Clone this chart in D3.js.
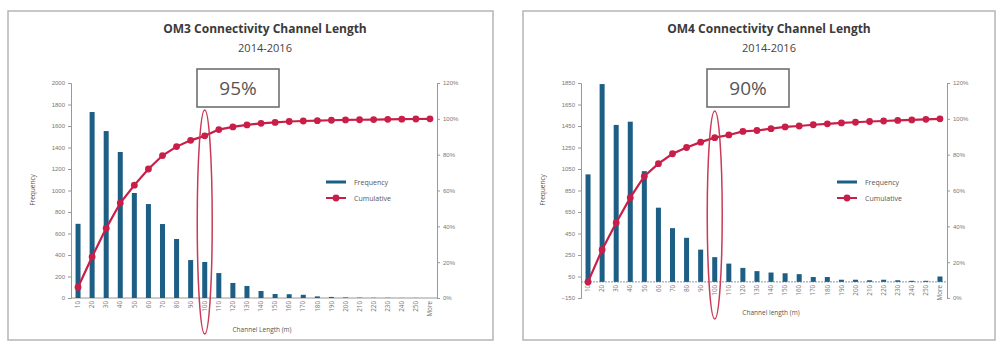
<!DOCTYPE html>
<html>
<head>
<meta charset="utf-8">
<script src="https://cdn.jsdelivr.net/npm/d3@7"></script>
<style>
  body { margin: 0; background: #fff; }
  svg { display: block; font-family: "Open Sans", "Noto Sans", sans-serif; }
  .tick text { fill: #777; font-size: 6px; }
  .tick line, .domain { stroke: #999; }
</style>
</head>
<body>
<div id="chart"></div>
<script>
// Chart data
var categories = ["10", "20", "30", "40", "50", "60", "70", "80", "90", "100", "110", "120", "130",
    "140", "150", "160", "170", "180", "190", "200", "210", "220", "230", "240", "250", "More"];

var om3Frequency = [690, 1730, 1553, 1358, 977, 874, 688, 549, 353, 335, 232, 140, 112,
    65, 37, 35, 30, 15, 10, 5, 3, 2, 2, 1, 1, 0];
var om3Cumulative = [0.06, 0.23, 0.39, 0.53, 0.63, 0.72, 0.795, 0.845, 0.88, 0.905, 0.94, 0.955, 0.966,
    0.975, 0.98, 0.985, 0.988, 0.99, 0.992, 0.994, 0.995, 0.996, 0.997, 0.998, 0.999, 1.0];

var om4Frequency = [1000, 1840, 1460, 1490, 1030, 690, 500, 410, 300, 230, 170, 130, 100,
    87, 80, 72, 45, 45, 20, 20, 15, 20, 15, 10, 10, 50];
var om4Cumulative = [0.09, 0.27, 0.42, 0.56, 0.68, 0.75, 0.805, 0.84, 0.87, 0.895, 0.91, 0.93, 0.935,
    0.945, 0.955, 0.96, 0.967, 0.972, 0.977, 0.981, 0.985, 0.988, 0.991, 0.994, 0.997, 1.0];

var om3FreqTicks = d3.range(0, 2001, 200);
var om4FreqTicks = d3.range(-150, 1851, 200);
var pctTicks = [0, 0.2, 0.4, 0.6, 0.8, 1.0, 1.2];

var barColor = "#1d5e85";
var lineColor = "#c81e48";

var svg = d3.select("#chart")
    .append("svg")
    .attr("width", 996)
    .attr("height", 341);

// one panel per chart
function drawPanel(opt) {
    var g = svg.append("g");

    // frame
    g.append("rect")
        .attr("x", opt.frame[0])
        .attr("y", opt.frame[1])
        .attr("width", opt.frame[2])
        .attr("height", opt.frame[3])
        .attr("fill", "none")
        .attr("stroke", "#b5b5b5")
        .attr("stroke-width", 1.5);

    var x = d3.scalePoint()
        .domain(categories)
        .range(opt.xRange)
        .padding(0.5);

    var y = d3.scaleLinear()
        .domain(opt.yDomain)
        .range([298, 83]);

    var yPct = d3.scaleLinear()
        .domain([0, 1.2])
        .range([298, 83]);

    var leftAxis = d3.axisLeft(y).tickValues(opt.yTicks).tickSize(3).tickFormat(d3.format("d"));
    var rightAxis = d3.axisRight(yPct).tickValues(pctTicks).tickSize(3).tickFormat(d3.format(".0%"));

    g.append("g")
        .attr("transform", `translate(${opt.xRange[0]}, 0)`)
        .call(leftAxis);

    g.append("g")
        .attr("transform", `translate(${opt.xRange[1]}, 0)`)
        .call(rightAxis);

    // category axis sits at value 0
    var x0 = y(0);
    g.append("line")
        .attr("x1", opt.xRange[0])
        .attr("x2", opt.xRange[1])
        .attr("y1", x0)
        .attr("y2", x0)
        .attr("stroke", opt.yDomain[0] < 0 ? "#7d9bb3" : "#999")
        .attr("stroke-dasharray", opt.yDomain[0] < 0 ? "2,1" : null);

    g.append("g").selectAll("text")
        .data(categories)
        .enter()
        .append("text")
        .attr("transform", d => `translate(${x(d) + 2.2}, ${x0 + 3}) rotate(-90)`)
        .attr("text-anchor", "end")
        .attr("font-size", 6.3)
        .attr("fill", "#777")
        .text(d => d);

    // bars
    g.append("g").selectAll("rect")
        .data(opt.freq)
        .enter()
        .append("rect")
        .attr("x", (d, i) => x(categories[i]) - 2.5)
        .attr("y", d => y(d))
        .attr("width", 5)
        .attr("height", d => x0 - y(d))
        .attr("fill", barColor);

    // cumulative line
    var line = d3.line()
        .x((d, i) => x(categories[i]))
        .y(d => yPct(d));

    g.append("path")
        .datum(opt.cum)
        .attr("d", line)
        .attr("fill", "none")
        .attr("stroke", lineColor)
        .attr("stroke-width", 2.2);

    g.append("g").selectAll("circle")
        .data(opt.cum)
        .enter()
        .append("circle")
        .attr("cx", (d, i) => x(categories[i]))
        .attr("cy", d => yPct(d))
        .attr("r", 3.4)
        .attr("fill", lineColor);

    // titles
    g.append("text")
        .attr("x", opt.titleX)
        .attr("y", 33)
        .attr("text-anchor", "middle")
        .attr("font-size", 12)
        .attr("font-weight", "bold")
        .attr("fill", "#3a3a3a")
        .text(opt.title);

    g.append("text")
        .attr("x", opt.titleX)
        .attr("y", 52)
        .attr("text-anchor", "middle")
        .attr("font-size", 11)
        .attr("fill", "#444")
        .text("2014-2016");

    g.append("text")
        .attr("transform", `translate(${opt.yTitleX}, 190) rotate(-90)`)
        .attr("text-anchor", "middle")
        .attr("font-size", 6.5)
        .attr("fill", "#555")
        .text("Frequency");

    g.append("text")
        .attr("x", opt.xTitle[0])
        .attr("y", opt.xTitle[1])
        .attr("text-anchor", "middle")
        .attr("font-size", 6.5)
        .attr("fill", "#555")
        .text(opt.xTitleText);

    // legend
    var lg = g.append("g")
        .attr("transform", `translate(${opt.legendX}, 0)`);
    lg.append("line")
        .attr("x1", 0).attr("x2", 20).attr("y1", 182).attr("y2", 182)
        .attr("stroke", barColor).attr("stroke-width", 3);
    lg.append("line")
        .attr("x1", 0).attr("x2", 20).attr("y1", 198).attr("y2", 198)
        .attr("stroke", lineColor).attr("stroke-width", 2);
    lg.append("circle")
        .attr("cx", 10).attr("cy", 198).attr("r", 3.4)
        .attr("fill", lineColor);
    lg.append("text")
        .attr("x", 28).attr("y", 184.5)
        .attr("font-size", 7).attr("fill", "#555")
        .text("Frequency");
    lg.append("text")
        .attr("x", 28).attr("y", 200.5)
        .attr("font-size", 7).attr("fill", "#555")
        .text("Cumulative");

    // callout box
    g.append("rect")
        .attr("x", opt.boxX)
        .attr("y", 69)
        .attr("width", 82)
        .attr("height", 38)
        .attr("fill", "#fff")
        .attr("stroke", "#666")
        .attr("stroke-width", 1.5);

    g.append("text")
        .attr("x", opt.boxX + 41)
        .attr("y", 95)
        .attr("text-anchor", "middle")
        .attr("font-size", 19)
        .attr("fill", "#555")
        .text(opt.callout);

    // ellipse around the callout category
    g.append("ellipse")
        .attr("cx", x(opt.marked))
        .attr("cy", opt.ellipse[0])
        .attr("rx", 7.5)
        .attr("ry", opt.ellipse[1])
        .attr("fill", "none")
        .attr("stroke", "#c83a55")
        .attr("stroke-width", 1.5);
}

drawPanel({
    frame: [8, 11, 485, 329],
    xRange: [71, 437],
    yDomain: [0, 2000],
    yTicks: om3FreqTicks,
    freq: om3Frequency,
    cum: om3Cumulative,
    title: "OM3 Connectivity Channel Length",
    titleX: 265,
    yTitleX: 35,
    xTitle: [262, 332],
    xTitleText: "Channel Length (m)",
    legendX: 326,
    boxX: 197,
    callout: "95%",
    marked: "100",
    ellipse: [222, 112]
});

drawPanel({
    frame: [523, 11, 472, 329],
    xRange: [581, 947],
    yDomain: [-150, 1850],
    yTicks: om4FreqTicks,
    freq: om4Frequency,
    cum: om4Cumulative,
    title: "OM4 Connectivity Channel Length",
    titleX: 769,
    yTitleX: 545,
    xTitle: [771, 315],
    xTitleText: "Channel length (m)",
    legendX: 837,
    boxX: 707,
    callout: "90%",
    marked: "100",
    ellipse: [215, 104]
});
</script>
</body>
</html>
